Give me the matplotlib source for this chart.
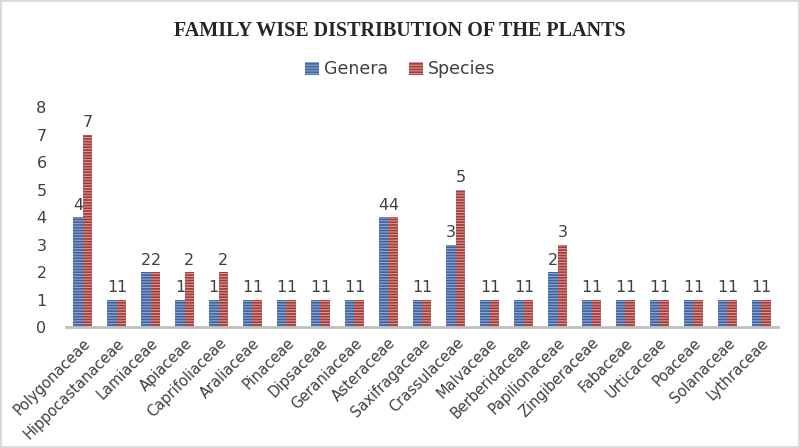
import matplotlib.pyplot as plt
import numpy as np

families = ["Polygonaceae", "Hippocastanaceae", "Lamiaceae", "Apiaceae", "Caprifoliaceae",
            "Araliaceae", "Pinaceae", "Dipsaceae", "Geraniaceae", "Asteraceae",
            "Saxifragaceae", "Crassulaceae", "Malvaceae", "Berberidaceae", "Papilionaceae",
            "Zingiberaceae", "Fabaceae", "Urticaceae", "Poaceae", "Solanaceae", "Lythraceae"]
genera = [4, 1, 2, 1, 1, 1, 1, 1, 1, 4, 1, 3, 1, 1, 2, 1, 1, 1, 1, 1, 1]
species = [7, 1, 2, 2, 2, 1, 1, 1, 1, 4, 1, 5, 1, 1, 3, 1, 1, 1, 1, 1, 1]

plt.rcParams["hatch.linewidth"] = 0.8

fig = plt.figure(figsize=(8, 4.48), dpi=100, edgecolor="#d9d9d9", linewidth=1.5)
ax = fig.add_axes([0.0825, 0.27, 0.89, 0.491])

x = np.arange(len(families))
w = 0.28
b1 = ax.bar(x - w / 2, genera, w, color="#3f62a0", edgecolor="#8fa7d0", hatch="------", linewidth=0, label="Genera")
b2 = ax.bar(x + w / 2, species, w, color="#a23a38", edgecolor="#d49a98", hatch="------", linewidth=0, label="Species")

for i in range(len(families)):
    ax.text(x[i] - w / 2, genera[i] + 0.15, str(genera[i]), ha="center", va="bottom", fontsize=11.5, color="#404040")
    ax.text(x[i] + w / 2, species[i] + 0.15, str(species[i]), ha="center", va="bottom", fontsize=11.5, color="#404040")

ax.set_xlim(-0.5, len(families) - 0.5)
ax.set_ylim(0, 8)
ax.set_yticks(range(0, 9))
ax.tick_params(axis="y", length=0, labelsize=11.5, labelcolor="#404040", pad=14)
ax.tick_params(axis="x", length=0, labelsize=10.5, labelcolor="#404040", pad=6)
ax.set_xticks(x)
ax.set_xticklabels(families, rotation=45, ha="right", rotation_mode="anchor")
for s in ["top", "right", "left"]:
    ax.spines[s].set_visible(False)
ax.spines["bottom"].set_color("#bfbfbf")
ax.spines["bottom"].set_linewidth(2)

fig.text(0.5, 0.93, "FAMILY WISE DISTRIBUTION OF THE PLANTS", ha="center", va="center",
         fontsize=14.5, fontweight="bold", family="Liberation Serif", color="#262626")
fig.legend(handles=[b1, b2], loc="center", bbox_to_anchor=(0.5, 0.845), ncol=2, frameon=False,
           fontsize=12.5, handlelength=0.8, handleheight=0.8, handletextpad=0.3, columnspacing=1.2,
           labelcolor="#404040")

fig.savefig("out.png", dpi=100)
